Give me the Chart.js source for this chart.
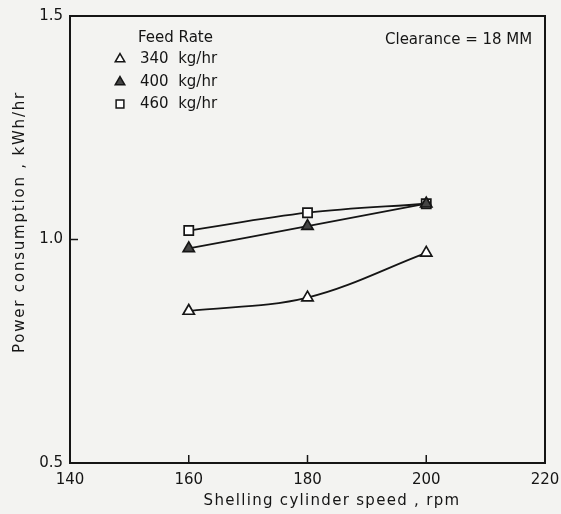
<!DOCTYPE html>
<html>
<head>
<meta charset="utf-8">
<script src="https://cdn.jsdelivr.net/npm/chart.js@4.4.1/dist/chart.umd.min.js"></script>
<style>
  html, body { margin: 0; padding: 0; background: #f3f3f1; }
  #wrap { width: 561px; height: 514px; }
</style>
</head>
<body>
<div id="wrap"><canvas id="c" width="561" height="514"></canvas></div>
<script>
// Shelling cylinder speed (rpm) and power consumption (kWh/hr) per feed rate
const speeds = [160, 180, 200];
const feed340 = [0.84, 0.87, 0.97];
const feed400 = [0.98, 1.03, 1.08];
const feed460 = [1.02, 1.06, 1.08];
const feedLabels = ['340  kg/hr', '400  kg/hr', '460  kg/hr'];
const xTickValues = [140, 160, 180, 200, 220];
const yTickValues = [0.5, 1.0, 1.5];
const xMarkValues = [160, 180, 200];
const yMarkValues = [1.0];
const xTitle = 'Shelling cylinder speed , rpm';
const yTitle = 'Power consumption , kWh/hr';
const legendTitle = 'Feed Rate';
const note = 'Clearance = 18 MM';

const INK = '#151515';
const FONT = '"DejaVu Sans", Verdana, sans-serif';

function pts(ys) { return speeds.map((x, i) => ({ x: x, y: ys[i] })); }

function series(label, ys, style, fill) {
  return {
    label: label,
    data: pts(ys),
    borderColor: INK,
    borderWidth: 1.8,
    tension: 0.35,
    pointStyle: style,
    pointRadius: 6.5,
    pointBorderWidth: 1.7,
    pointBorderColor: INK,
    pointBackgroundColor: fill,
    fill: false
  };
}

// Box frame, inward tick marks, axis titles, legend block and clearance note
const decor = {
  id: 'decor',
  afterDraw(chart) {
    const ctx = chart.ctx;
    const a = chart.chartArea;
    const xs = chart.scales.x, ys = chart.scales.y;
    ctx.save();
    ctx.strokeStyle = INK;
    ctx.lineWidth = 2;
    ctx.strokeRect(a.left, a.top, a.right - a.left, a.bottom - a.top);
    ctx.lineWidth = 1.5;
    xMarkValues.forEach(v => {
      const px = xs.getPixelForValue(v);
      ctx.beginPath(); ctx.moveTo(px, a.bottom); ctx.lineTo(px, a.bottom - 8); ctx.stroke();
    });
    yMarkValues.forEach(v => {
      const py = ys.getPixelForValue(v);
      ctx.beginPath(); ctx.moveTo(a.left, py); ctx.lineTo(a.left + 8, py); ctx.stroke();
    });

    ctx.fillStyle = INK;
    ctx.font = '15px ' + FONT;
    ctx.textBaseline = 'middle';
    ctx.textAlign = 'left';
    ctx.fillText(legendTitle, 138, 38);
    const rows = [59, 82, 104];
    chart.data.datasets.forEach((ds, i) => {
      ctx.save();
      ctx.strokeStyle = INK;
      ctx.fillStyle = ds.pointBackgroundColor;
      ctx.lineWidth = 1.5;
      Chart.helpers.drawPoint(ctx, { pointStyle: ds.pointStyle, radius: 5.5, borderWidth: 1.5, rotation: 0 }, 120, rows[i]);
      ctx.restore();
      ctx.fillStyle = INK;
      ctx.fillText(ds.label, 140, rows[i]);
    });
    ctx.fillText(note, 385, 40);

    // axis titles, lettered a little wide
    ctx.textAlign = 'center';
    ctx.letterSpacing = '1.3px';
    ctx.fillText(xTitle, 332, 501);
    ctx.save();
    ctx.translate(20, 222);
    ctx.rotate(-Math.PI / 2);
    ctx.letterSpacing = '1.8px';
    ctx.fillText(yTitle, 0, 0);
    ctx.restore();
    ctx.letterSpacing = '0px';
    ctx.restore();
  }
};

new Chart(document.getElementById('c'), {
  type: 'line',
  data: {
    datasets: [
      series(feedLabels[0], feed340, 'triangle', '#ffffff'),
      series(feedLabels[1], feed400, 'triangle', '#444444'),
      series(feedLabels[2], feed460, 'rect', '#ffffff')
    ]
  },
  options: {
    responsive: false,
    animation: false,
    layout: { padding: { left: 0, right: 16, top: 16, bottom: 0 } },
    plugins: { legend: { display: false }, tooltip: { enabled: false } },
    scales: {
      x: {
        type: 'linear',
        min: 140, max: 220,
        afterBuildTicks(s) { s.ticks = xTickValues.map(v => ({ value: v })); },
        afterFit(s) { s.height = 51; s.paddingLeft = 0; s.paddingRight = 0; },
        grid: { display: false, drawTicks: false },
        border: { display: false },
        ticks: { color: INK, font: { family: FONT, size: 15 }, padding: 8, maxRotation: 0 }
      },
      y: {
        min: 0.5, max: 1.5,
        afterBuildTicks(s) { s.ticks = yTickValues.map(v => ({ value: v })); },
        afterFit(s) { s.width = 70; s.paddingTop = 0; s.paddingBottom = 0; },
        grid: { display: false, drawTicks: false },
        border: { display: false },
        ticks: { color: INK, font: { family: FONT, size: 15 }, padding: 7, callback: v => v.toFixed(1) }
      }
    }
  },
  plugins: [decor]
});
</script>
</body>
</html>
